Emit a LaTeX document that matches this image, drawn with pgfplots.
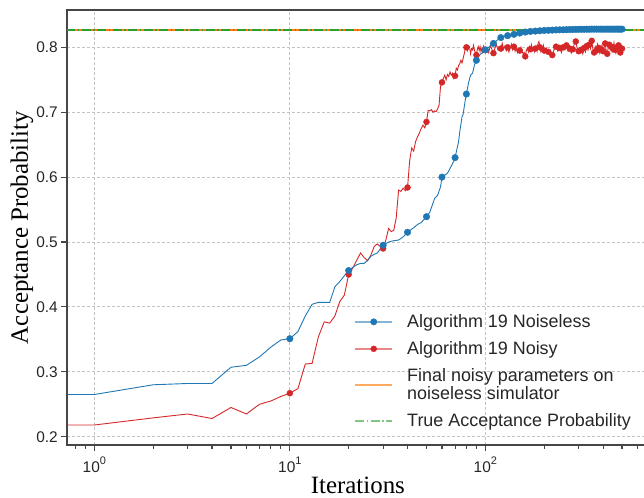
\documentclass[border=0pt]{standalone}
\usepackage{fontspec}
\setmainfont{Liberation Sans}
\newfontfamily\seriffont{Liberation Serif}
\usepackage{pgfplots}
\pgfplotsset{compat=1.18}

\definecolor{tabblue}{RGB}{31,119,180}
\definecolor{tabred}{RGB}{214,39,40}
\definecolor{taborange}{RGB}{255,127,14}
\definecolor{tabgreen}{RGB}{44,160,44}
\definecolor{spinecol}{RGB}{70,70,70}
\definecolor{gridcol}{RGB}{195,195,195}

\begin{document}
\begin{tikzpicture}
\begin{axis}[
    at={(0,0)}, anchor=south west,
    width=581.1bp, height=435bp, scale only axis,
    xmode=log,
    xmin=0.7277, xmax=682.3,
    ymin=0.1872, ymax=0.8575,
    axis line style={spinecol, line width=1.6bp},
    tick style={spinecol, line width=1.1bp},
    major tick length=6bp, minor tick length=3.5bp,
    tick align=outside, tick pos=left,
    grid=major,
    major grid style={gridcol, line width=0.8bp, dash pattern=on 3bp off 2bp},
    xtick={1,10,100},
    xticklabels={10\raisebox{8.5bp}{\fontsize{11}{11}\selectfont 0},
                 10\raisebox{8.5bp}{\fontsize{11}{11}\selectfont 1},
                 10\raisebox{8.5bp}{\fontsize{11}{11}\selectfont 2}},
    xticklabel style={yshift=-2bp},
    minor xtick={0.8,0.9,2,3,4,5,6,7,8,9,20,30,40,50,60,70,80,90,200,300,400,500,600},
    ytick={0.2,0.3,0.4,0.5,0.6,0.7,0.8},
    /pgf/number format/assume math mode=true,
    yticklabel style={/pgf/number format/fixed, /pgf/number format/precision=1,
        /pgf/number format/fixed zerofill},
    ticklabel style={font=\fontsize{15.5}{18}\selectfont, text=black!85},
    xlabel={Iterations},
    ylabel={Acceptance Probability},
    xlabel style={font=\seriffont\fontsize{25}{25}\selectfont, at={(axis description cs:0.5,0)},
        anchor=base, yshift=-48.5bp, inner sep=0pt},
    ylabel style={font=\seriffont\fontsize{25}{25}\selectfont, at={(axis description cs:-0.078,0.5)},
        anchor=center},
    legend cell align=left,
    legend style={at={(axis description cs:0.4934,0.3048)}, anchor=north west,
        draw=none, fill=none, inner sep=0pt, row sep=8.5bp,
        font=\fontsize{18}{18.5}\selectfont, text=black!85,
        cells={align=left}, nodes={inner xsep=14bp}},
]

% final noisy parameters on the noiseless simulator
\addplot[taborange, line width=2bp, forget plot] coordinates {(0.5,0.827) (1000,0.827)};
% true acceptance probability
\addplot[tabgreen, line width=1.8bp, dash pattern=on 9bp off 2.5bp on 1.5bp off 2.5bp, forget plot]
    coordinates {(0.5,0.827) (1000,0.827)};

% Algorithm 19 noisy
\addplot[tabred, line width=0.9bp, forget plot] coordinates {
(0.5,0.218)(1,0.218)(2,0.229)(3,0.235)(4,0.228)(5,0.245)(6,0.235)(7,0.250)(8,0.255)(9,0.262)
(10,0.267)(11,0.274)(12,0.312)(13,0.313)(14,0.354)(15,0.377)(16,0.375)(17,0.386)(18,0.408)(19,0.418)
(20,0.450)(21,0.460)(22,0.472)(23,0.483)(24,0.476)(25,0.471)(26,0.480)(27,0.493)(28,0.497)(29,0.493)
(30,0.490)(31,0.503)(32,0.521)(33,0.516)(34,0.518)(35,0.537)(36,0.580)(37,0.578)(38,0.583)(39,0.579)
(40,0.584)(41,0.625)(42,0.645)(43,0.640)(44,0.655)(45,0.662)(46,0.668)(47,0.675)(48,0.680)(49,0.676)
(50,0.685)(51,0.703)(52,0.702)(53,0.704)(54,0.700)(55,0.702)(56,0.701)(57,0.705)(58,0.711)(59,0.740)
(60,0.746)(61,0.752)(62,0.757)(63,0.750)(64,0.758)(65,0.755)(66,0.762)(67,0.757)(68,0.760)(69,0.752)
(70,0.756)(71,0.768)(72,0.765)(73,0.772)(74,0.775)(75,0.780)(76,0.776)(77,0.783)(78,0.790)(79,0.798)
(80,0.800)(81,0.795)(82,0.802)(83,0.801)(84,0.790)(85,0.798)(86,0.796)(87,0.803)(88,0.795)(89,0.792)
(90,0.788)(91,0.797)(92,0.801)(93,0.795)(94,0.801)(95,0.793)(96,0.799)(97,0.793)(98,0.802)(99,0.799)
(100,0.796)(102,0.800)(104,0.792)(106,0.803)(108,0.797)(110,0.791)(112,0.799)(114,0.804)(116,0.796)(118,0.801)
(120,0.798)(122,0.806)(124,0.797)(126,0.802)(128,0.795)(130,0.800)(132,0.793)(134,0.799)(136,0.805)(138,0.796)
(140,0.801)(142,0.794)(144,0.798)(146,0.792)(148,0.797)(150,0.795)(152,0.800)(154,0.794)(156,0.790)(158,0.792)
(160,0.786)(162,0.795)(164,0.799)(166,0.793)(168,0.801)(170,0.797)(172,0.804)(174,0.796)(176,0.799)(178,0.793)
(180,0.798)(182,0.802)(184,0.795)(186,0.806)(188,0.809)(190,0.800)(192,0.794)(194,0.801)(196,0.797)(198,0.803)
(200,0.795)(205,0.799)(210,0.793)(215,0.790)(220,0.788)(225,0.797)(230,0.801)(235,0.794)(240,0.799)(245,0.792)
(250,0.800)(255,0.796)(260,0.803)(265,0.794)(270,0.798)(275,0.791)(280,0.797)(285,0.805)(290,0.809)(295,0.798)
(300,0.794)(305,0.800)(310,0.796)(315,0.790)(320,0.799)(325,0.793)(330,0.802)(335,0.796)(340,0.804)(345,0.798)
(350,0.810)(355,0.797)(360,0.792)(365,0.801)(370,0.795)(375,0.805)(380,0.799)(385,0.791)(390,0.797)(395,0.803)
(400,0.794)(405,0.800)(410,0.806)(415,0.795)(420,0.790)(425,0.799)(430,0.804)(435,0.796)(440,0.801)(445,0.793)
(450,0.798)(455,0.807)(460,0.796)(465,0.791)(470,0.800)(475,0.795)(480,0.803)(485,0.797)(490,0.792)(495,0.801)
(500,0.798)
};
\addplot[tabred, only marks, mark=*, mark size=3bp, forget plot] coordinates {
(10,0.267)(20,0.450)(30,0.490)(40,0.584)(50,0.685)(60,0.746)(70,0.756)(80,0.800)(90,0.788)(100,0.796)
(110,0.791)(120,0.798)(130,0.800)(140,0.801)(150,0.795)(160,0.786)(170,0.797)(180,0.798)(190,0.800)(200,0.795)
(210,0.793)(220,0.788)(230,0.801)(240,0.799)(250,0.800)(260,0.803)(270,0.798)(280,0.797)(290,0.809)(300,0.794)
(310,0.796)(320,0.799)(330,0.802)(340,0.804)(350,0.810)(360,0.792)(370,0.795)(380,0.799)(390,0.797)(400,0.794)
(410,0.806)(420,0.790)(430,0.804)(440,0.801)(450,0.798)(460,0.796)(470,0.800)(480,0.803)(490,0.792)(500,0.798)
};

% Algorithm 19 noiseless
\addplot[tabblue, line width=0.9bp, forget plot] coordinates {
(0.5,0.265)(1,0.265)(2,0.280)(3,0.282)(4,0.282)(5,0.307)(6,0.310)(7,0.323)(8,0.338)(9,0.349)
(10,0.351)(11,0.362)(12,0.386)(13,0.404)(14,0.407)(15,0.407)(16,0.407)(17,0.431)(18,0.439)(19,0.448)
(20,0.456)(21,0.461)(22,0.465)(23,0.467)(24,0.467)(25,0.472)(26,0.478)(27,0.481)(28,0.483)(29,0.489)
(30,0.495)(32,0.500)(34,0.502)(36,0.503)(38,0.508)(40,0.515)(43,0.522)(45,0.527)(47,0.530)
(50,0.539)(52,0.546)(54,0.560)(55,0.567)(57,0.572)(59,0.585)(60,0.600)(62,0.603)(64,0.606)(67,0.617)(69,0.625)
(70,0.630)(73,0.655)(74,0.670)(76,0.693)(77,0.697)(79,0.719)(80,0.728)(82,0.745)(84,0.757)(86,0.760)(88,0.773)
(90,0.780)(92,0.785)(94,0.789)(97,0.792)(100,0.796)(105,0.801)(110,0.806)(115,0.811)(120,0.815)(125,0.817)
(130,0.818)(140,0.820)(150,0.822)(160,0.8235)(170,0.8245)(180,0.825)(190,0.8255)(200,0.826)(220,0.8265)
(250,0.827)(300,0.8277)(400,0.828)(500,0.828)
};
\addplot[tabblue, only marks, mark=*, mark size=3.3bp, forget plot] coordinates {
(10,0.351)(20,0.456)(30,0.495)(40,0.515)(50,0.539)(60,0.600)(70,0.630)(80,0.728)(90,0.780)(100,0.796)
(110,0.806)(120,0.815)(130,0.818)(140,0.820)(150,0.822)(160,0.8235)(170,0.8245)(180,0.825)(190,0.8255)(200,0.826)
(210,0.8262)(220,0.8265)(230,0.8268)(240,0.827)(250,0.827)(260,0.8272)(270,0.8274)(280,0.8275)(290,0.8276)(300,0.8277)
(310,0.8278)(320,0.8278)(330,0.8279)(340,0.8279)(350,0.828)(360,0.828)(370,0.828)(380,0.828)(390,0.828)(400,0.828)
(410,0.828)(420,0.828)(430,0.828)(440,0.828)(450,0.828)(460,0.828)(470,0.828)(480,0.828)(490,0.828)(500,0.828)
};

\addlegendimage{legend image code/.code={
    \draw[tabblue!55!white, line width=2bp] (0bp,0bp) -- (37bp,0bp);
    \fill[tabblue] (18.5bp,0bp) circle (3.2bp);}}
\addlegendentry{Algorithm 19 Noiseless}
\addlegendimage{legend image code/.code={
    \draw[tabred!55!white, line width=2bp] (0bp,0bp) -- (37bp,0bp);
    \fill[tabred] (18.5bp,0bp) circle (3bp);}}
\addlegendentry{Algorithm 19 Noisy}
\addlegendimage{legend image code/.code={
    \draw[taborange!65!white, line width=2bp] (0bp,0bp) -- (37bp,0bp);}}
\addlegendentry{Final noisy parameters on\\noiseless simulator}
\addlegendimage{legend image code/.code={
    \draw[tabgreen!60!white, line width=1.8bp, dash pattern=on 9bp off 2.5bp on 1.5bp off 2.5bp]
        (0bp,0bp) -- (37bp,0bp);}}
\addlegendentry{True Acceptance Probability}

\end{axis}
\pgfresetboundingbox
\path[use as bounding box] (-67.3bp,-53bp) rectangle (576.7bp,445bp);
\end{tikzpicture}
\end{document}
